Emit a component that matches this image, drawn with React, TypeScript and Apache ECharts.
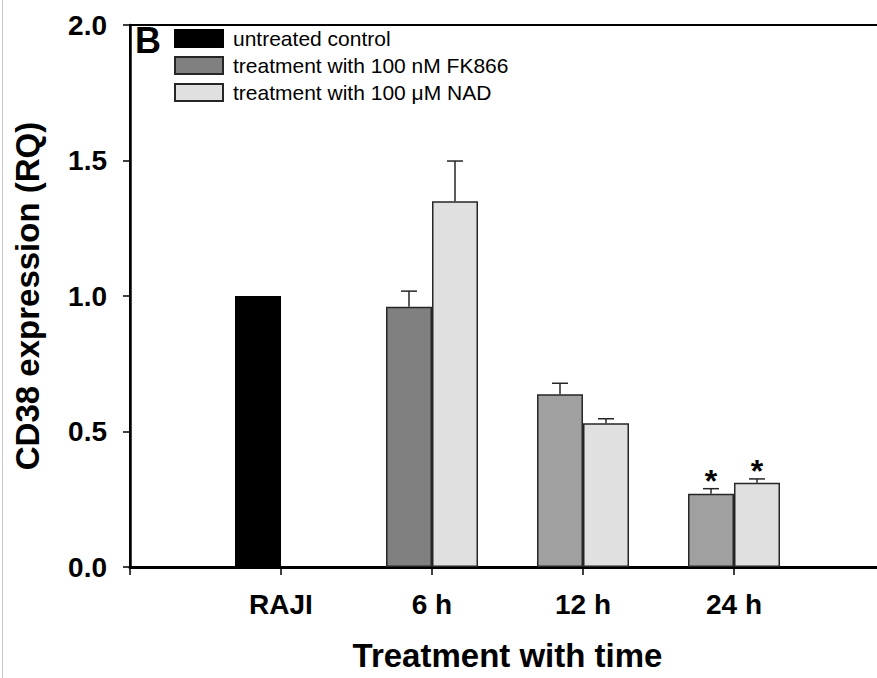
import React, { useEffect, useRef } from "react";
import * as echarts from "echarts";

const categories = ["", "RAJI", "6 h", "12 h", "24 h", ""];
const controlValues = [null, 1.0, null, null, null, null];
const fk866Values = [null, null, 0.96, 0.637, 0.27, null];
const fk866Errors = [null, null, 0.058, 0.041, 0.019, null];
const nadValues = [null, null, 1.35, 0.53, 0.311, null];
const nadErrors = [null, null, 0.148, 0.017, 0.014, null];
const fk866Sig = ["", "", "", "", "*", ""];
const nadSig = ["", "", "", "", "*", ""];
const yTicks = [0, 0.5, 1.0, 1.5, 2.0];

const FONT = "'Liberation Sans', Arial, sans-serif";
const BAR_W = 46;

export default function App() {
  const ref = useRef<HTMLDivElement>(null);
  useEffect(() => {
    if (!ref.current) return;
    const chart = echarts.init(ref.current, null, { renderer: "svg" });

    const errData: any[] = [];
    fk866Values.forEach((v, i) => {
      if (v != null) errData.push([i, v, v + (fk866Errors[i] as number), -1, fk866Sig[i]]);
    });
    nadValues.forEach((v, i) => {
      if (v != null) errData.push([i, v, v + (nadErrors[i] as number), 1, nadSig[i]]);
    });

    const fkColors = ["#808080", "#808080", "#808080", "#a0a0a0", "#a0a0a0", "#a0a0a0"];

    chart.setOption({
      animation: false,
      backgroundColor: "#ffffff",
      textStyle: { fontFamily: FONT },
      grid: {
        left: 130,
        top: 25,
        width: 755,
        height: 542,
        show: true,
        borderColor: "#000",
        borderWidth: 2,
        containLabel: false,
        outerBoundsMode: "none",
      },
      legend: {
        orient: "vertical",
        left: 174,
        top: 28,
        padding: 0,
        itemWidth: 48,
        itemHeight: 17,
        itemGap: 6,
        icon: "rect",
        selectedMode: false,
        textStyle: {
          fontFamily: FONT,
          fontSize: 21,
          color: "#000",
          lineHeight: 18,
          padding: [0, 0, 0, 5],
        },
        data: [
          "untreated control",
          "treatment with 100 nM FK866",
          "treatment with 100 μM NAD",
        ],
      },
      graphic: [
        {
          type: "line",
          shape: { x1: 2.5, y1: 0, x2: 2.5, y2: 678 },
          style: { stroke: "#c8c8c8", lineWidth: 1 },
        },
        {
          type: "text",
          left: 135,
          top: 22,
          style: {
            text: "B",
            fontFamily: FONT,
            fontWeight: "bold",
            fontSize: 36,
            fill: "#000",
          },
        },
      ],
      xAxis: {
        type: "category",
        data: categories,
        boundaryGap: false,
        name: "Treatment with time",
        nameLocation: "middle",
        nameGap: 72,
        nameTextStyle: {
          fontFamily: FONT,
          fontWeight: "bold",
          fontSize: 33,
          lineHeight: 33,
          color: "#000",
        },
        axisLine: { show: true, lineStyle: { color: "#000", width: 3 } },
        axisTick: {
          show: true,
          inside: false,
          length: 8,
          lineStyle: { color: "#000", width: 1.5 },
        },
        axisLabel: {
          margin: 23,
          fontFamily: FONT,
          fontWeight: "bold",
          fontSize: 28,
          color: "#000",
        },
        splitLine: { show: false },
      },
      yAxis: {
        type: "value",
        min: 0,
        max: 2,
        interval: 0.5,
        name: "CD38 expression (RQ)",
        nameLocation: "middle",
        nameGap: 86,
        nameTextStyle: {
          fontFamily: FONT,
          fontWeight: "bold",
          fontSize: 33,
          color: "#000",
        },
        axisLine: { show: true, lineStyle: { color: "#000", width: 2.5 } },
        axisTick: {
          show: true,
          inside: false,
          length: 7,
          lineStyle: { color: "#000", width: 1.5 },
        },
        axisLabel: {
          margin: 23,
          fontFamily: FONT,
          fontWeight: "bold",
          fontSize: 28,
          color: "#000",
          formatter: (v: number) => (yTicks.includes(v) ? v.toFixed(1) : ""),
        },
        splitLine: { show: false },
      },
      series: [
        {
          name: "untreated control",
          type: "bar",
          stack: "first",
          barWidth: BAR_W,
          barGap: "0%",
          data: controlValues,
          itemStyle: { color: "#000000", borderColor: "#000", borderWidth: 1.5 },
        },
        {
          name: "treatment with 100 nM FK866",
          type: "bar",
          stack: "first",
          barWidth: BAR_W,
          barGap: "0%",
          data: fk866Values.map((v, i) =>
            v == null ? null : { value: v, itemStyle: { color: fkColors[i] } }
          ),
          itemStyle: { color: "#808080", borderColor: "#262626", borderWidth: 1.5 },
        },
        {
          name: "treatment with 100 μM NAD",
          type: "bar",
          barWidth: BAR_W,
          barGap: "0%",
          data: nadValues,
          itemStyle: { color: "#e0e0e0", borderColor: "#262626", borderWidth: 1.5 },
        },
        {
          name: "errors",
          type: "custom",
          z: 5,
          silent: true,
          data: errData,
          encode: { x: 0, y: [1, 2] },
          renderItem: (params: any, api: any) => {
            const cat = api.value(0);
            const base = api.coord([cat, api.value(1)]);
            const top = api.coord([cat, api.value(2)]);
            const side = api.value(3);
            const x = base[0] + (side * BAR_W) / 2;
            const sig = errData[params.dataIndex][4];
            const children: any[] = [
              {
                type: "line",
                shape: { x1: x, y1: base[1], x2: x, y2: top[1] },
                style: { stroke: "#262626", lineWidth: 1.5 },
              },
              {
                type: "line",
                shape: { x1: x - 8, y1: top[1], x2: x + 8, y2: top[1] },
                style: { stroke: "#262626", lineWidth: 1.5 },
              },
            ];
            if (sig) {
              children.push({
                type: "text",
                x: x,
                y: top[1] + 8,
                style: {
                  text: sig,
                  fontFamily: FONT,
                  fontWeight: "bold",
                  fontSize: 32,
                  fill: "#000",
                  align: "center",
                  verticalAlign: "bottom",
                },
              });
            }
            return { type: "group", children };
          },
        },
      ],
    });
    return () => chart.dispose();
  }, []);

  return (
    <div
      ref={ref}
      style={{ position: "fixed", left: 0, top: 0, width: 877, height: 678 }}
    />
  );
}
